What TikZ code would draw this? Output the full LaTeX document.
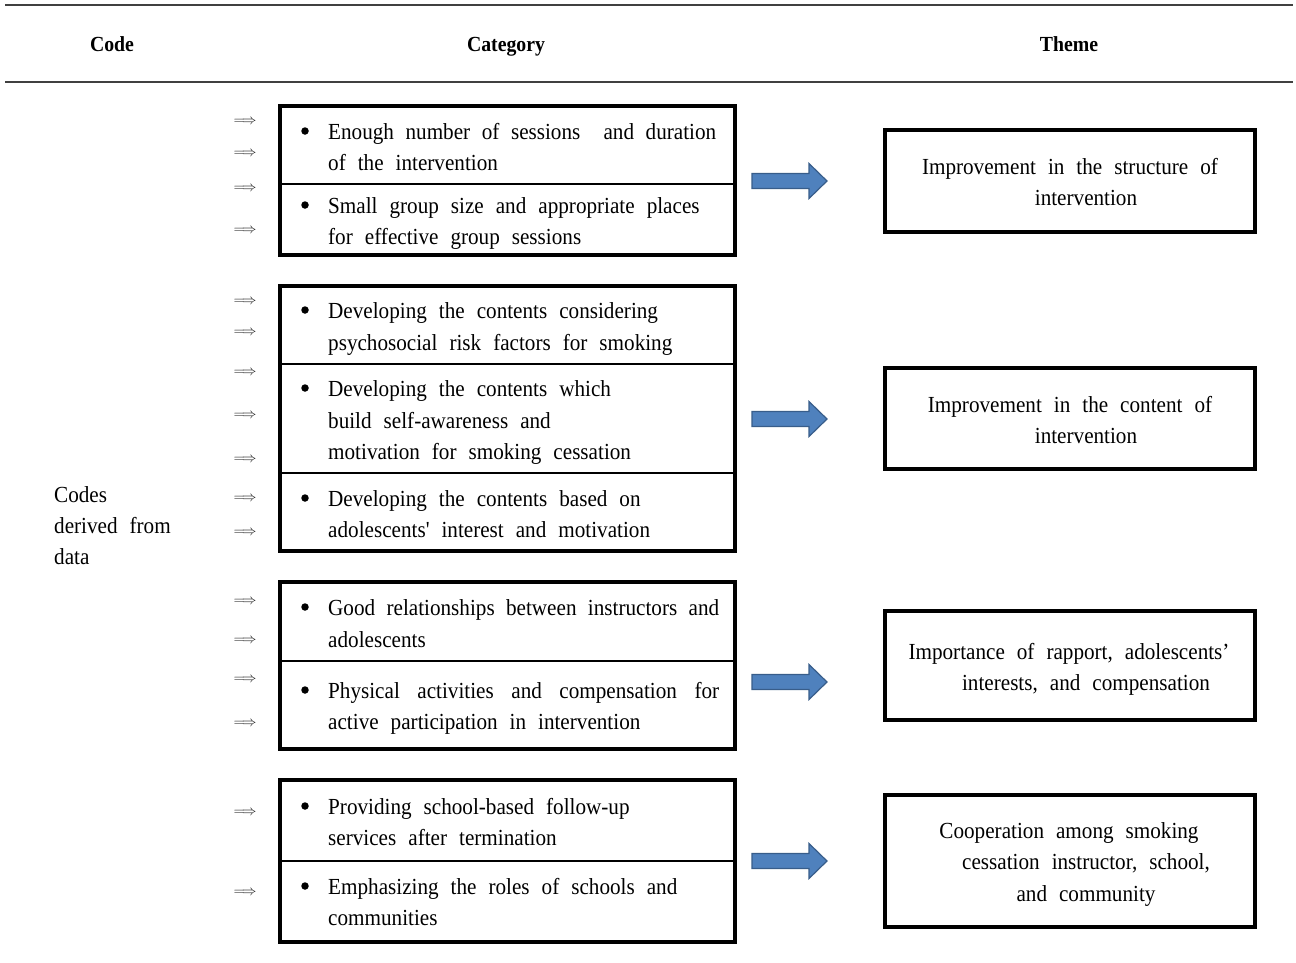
\documentclass[tikz,border=0pt]{standalone}
\usepackage{fontspec}
\setmainfont{Liberation Serif}
\newfontfamily\bodyf[FakeStretch=0.92]{Liberation Serif}
\usetikzlibrary{calc}
\definecolor{arrowblue}{HTML}{4F81BD}
\definecolor{arrowedge}{HTML}{385D8A}
\newcommand{\bodyfnt}{\bodyf\fontsize{23}{28}\selectfont\spaceskip=12pt plus 6pt minus 3pt\relax}
\newcommand{\jline}[2]{\makebox[#1pt][s]{#2}}
\tikzset{
  catbox/.style={draw, line width=3.5pt, minimum width=455pt, inner sep=0pt},
  themebox/.style={draw, line width=3.5pt, minimum width=370pt, inner sep=0pt},
  divider/.style={line width=1.3pt},
  txt/.style={anchor=base west, inner sep=0pt, font=\bodyfnt},
  ctxt/.style={anchor=base, inner sep=0pt, font=\bodyfnt},
  head/.style={anchor=base, inner sep=0pt, font=\bodyf\bfseries\fontsize{21.5}{24}\selectfont},
  dbl/.style={inner sep=0pt, text=black!90, font=\fontsize{15.5}{15.5}\selectfont},
  bul/.style={circle, fill, minimum size=7.5pt, inner sep=0pt},
  rulel/.style={line width=1.8pt, draw=black!75},
  fat/.style={fill=arrowblue, draw=arrowedge, line width=1.2pt, line join=miter}
}
\newcommand{\fatarrow}[1]{%
  \draw[fat] (#1) ++(0,-7.5) -- ++(57,0) -- ++(0,-10) -- ++(18,17.5) -- ++(-18,17.5) -- ++(0,-10) -- ++(-57,0) -- cycle;}
\begin{document}
\begin{tikzpicture}[x=1pt,y=-1pt]
\useasboundingbox (0,0) rectangle (1296,962);
% header rules
\coordinate (r1a) at (5,5); \coordinate (r1b) at (1293,5);
\coordinate (r2a) at (5,82); \coordinate (r2b) at (1293,82);
\draw[rulel] (r1a) -- (r1b);
\draw[rulel] (r2a) -- (r2b);
\node[head] (hcode) at (112,51) {Code};
\node[head] (hcat) at (506,51) {Category};
\node[head] (htheme) at (1069,51) {Theme};
% code column
\node[txt] (codes1) at (54,502) {Codes};
\node[txt] (codes2) at (54,533) {derived from};
\node[txt] (codes3) at (54,564) {data};
% double arrows
\foreach \y [count=\i] in {122,154,189,231,302,333,373,416,460,499,533,602,641,680,724,813,893}
  \node[dbl] (d\i) at (245,\y) {$\Longrightarrow$};
% category boxes
\node[catbox, minimum height=149pt] (g1) at (507.5,180.5) {};
\node[catbox, minimum height=265pt] (g2) at (507.5,418.5) {};
\node[catbox, minimum height=167pt] (g3) at (507.5,665.5) {};
\node[catbox, minimum height=162pt] (g4) at (507.5,861) {};
\draw[divider] (g1.west |- 0,184) -- (g1.east |- 0,184);
\draw[divider] (g2.west |- 0,364) -- (g2.east |- 0,364);
\draw[divider] (g2.west |- 0,473) -- (g2.east |- 0,473);
\draw[divider] (g3.west |- 0,661) -- (g3.east |- 0,661);
\draw[divider] (g4.west |- 0,861) -- (g4.east |- 0,861);
% bullets
\foreach \y [count=\i] in {131,205,310,388,498,607,690,806,886}
  \node[bul] (b\i) at (305,\y) {};
% category texts
\node[txt] (t11) at (328,139) {\jline{388}{Enough number of sessions \ and duration}};
\node[txt] (t12) at (328,170) {of the intervention};
\node[txt] (t13) at (328,213) {Small group size and appropriate places};
\node[txt] (t14) at (328,244) {for effective group sessions};
\node[txt] (t21) at (328,318) {Developing the contents considering};
\node[txt] (t22) at (328,350) {psychosocial risk factors for smoking};
\node[txt] (t23) at (328,396) {Developing the contents which};
\node[txt] (t24) at (328,428) {build self-awareness and};
\node[txt] (t25) at (328,459) {motivation for smoking cessation};
\node[txt] (t26) at (328,506) {Developing the contents based on};
\node[txt] (t27) at (328,537) {adolescents' interest and motivation};
\node[txt] (t31) at (328,615) {\jline{391}{Good relationships between instructors and}};
\node[txt] (t32) at (328,647) {adolescents};
\node[txt] (t33) at (328,698) {\jline{391}{Physical activities and compensation for}};
\node[txt] (t34) at (328,729) {active participation in intervention};
\node[txt] (t41) at (328,814) {Providing school-based follow-up};
\node[txt] (t42) at (328,845) {services after termination};
\node[txt] (t43) at (328,894) {Emphasizing the roles of schools and};
\node[txt] (t44) at (328,925) {communities};
% theme boxes
\node[themebox, minimum height=102pt] (th1) at (1070,181) {};
\node[themebox, minimum height=101pt] (th2) at (1070,418.5) {};
\node[themebox, minimum height=109pt] (th3) at (1070,665.5) {};
\node[themebox, minimum height=132pt] (th4) at (1070,861) {};
\node[ctxt] (s11) at (1070,174) {Improvement in the structure of};
\node[ctxt] (s12) at (1086,205) {intervention};
\node[ctxt] (s21) at (1070,412) {Improvement in the content of};
\node[ctxt] (s22) at (1086,443) {intervention};
\node[ctxt] (s31) at (1069,659) {Importance of rapport, adolescents’};
\node[ctxt] (s32) at (1086,690) {interests, and compensation};
\node[ctxt] (s41) at (1069,838) {Cooperation among smoking};
\node[ctxt] (s42) at (1086,869) {cessation instructor, school,};
\node[ctxt] (s43) at (1086,901) {and community};
% blue arrows
\coordinate (a1) at (752,181);
\coordinate (a2) at (752,419);
\coordinate (a3) at (752,682);
\coordinate (a4) at (752,861);
\fatarrow{a1}
\fatarrow{a2}
\fatarrow{a3}
\fatarrow{a4}
\end{tikzpicture}
\end{document}
